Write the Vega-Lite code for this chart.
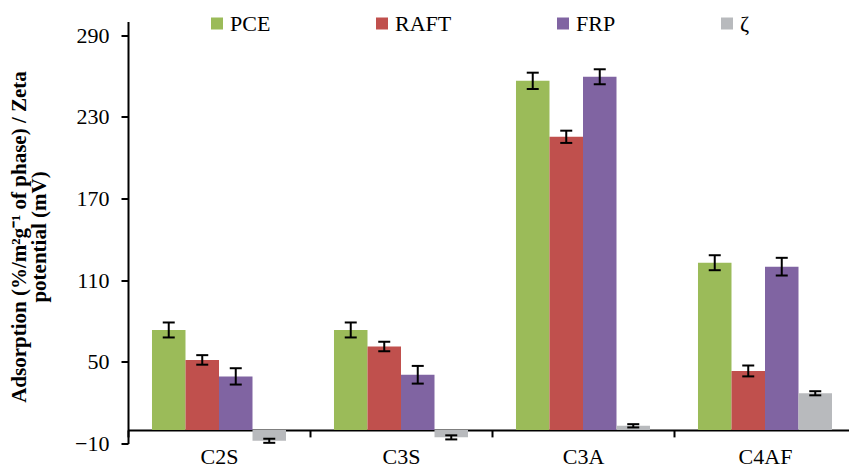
{
  "$schema": "https://vega.github.io/schema/vega-lite/v6.json",
  "width": 721,
  "height": 422,
  "autosize": "none",
  "padding": {"left": 128, "top": 21.5, "right": 0, "bottom": 25.5},
  "background": "white",
  "config": {"view": {"stroke": null}, "font": "'Times New Roman', 'Liberation Serif', serif"},
  "data": {
    "values": [
      {"phase": "C2S", "series": "PCE", "value": 73.4, "lo": 67.9, "hi": 78.9},
      {"phase": "C2S", "series": "RAFT", "value": 51.4, "lo": 47.9, "hi": 54.9},
      {"phase": "C2S", "series": "FRP", "value": 39.3, "lo": 33.3, "hi": 45.3},
      {"phase": "C2S", "series": "ζ", "value": -8, "lo": -9.5, "hi": -6.5},
      {"phase": "C3S", "series": "PCE", "value": 73.4, "lo": 67.9, "hi": 78.9},
      {"phase": "C3S", "series": "RAFT", "value": 61.2, "lo": 57.7, "hi": 64.7},
      {"phase": "C3S", "series": "FRP", "value": 40.5, "lo": 34.0, "hi": 47.0},
      {"phase": "C3S", "series": "ζ", "value": -5.5, "lo": -7.0, "hi": -4.0},
      {"phase": "C3A", "series": "PCE", "value": 256.4, "lo": 250.4, "hi": 262.4},
      {"phase": "C3A", "series": "RAFT", "value": 215.3, "lo": 210.8, "hi": 219.8},
      {"phase": "C3A", "series": "FRP", "value": 259.4, "lo": 253.9, "hi": 264.9},
      {"phase": "C3A", "series": "ζ", "value": 3, "lo": 1.8, "hi": 4.2},
      {"phase": "C4AF", "series": "PCE", "value": 122.8, "lo": 117.3, "hi": 128.3},
      {"phase": "C4AF", "series": "RAFT", "value": 43.3, "lo": 39.3, "hi": 47.3},
      {"phase": "C4AF", "series": "FRP", "value": 119.9, "lo": 113.4, "hi": 126.4},
      {"phase": "C4AF", "series": "ζ", "value": 26.9, "lo": 25.4, "hi": 28.4}
    ]
  },
  "encoding": {
    "x": {
      "field": "phase",
      "type": "nominal",
      "sort": ["C2S", "C3S", "C3A", "C4AF"],
      "scale": {"paddingInner": 0, "paddingOuter": 0, "range": [0, 728]},
      "axis": {
        "title": null,
        "offset": -13.6,
        "tickBand": "extent",
        "labelAngle": 0,
        "labelFont": "'Times New Roman', 'Liberation Serif', serif",
        "labelFontSize": 22,
        "labelColor": "black",
        "labelPadding": 10,
        "tickColor": "black",
        "tickSize": 7,
        "tickWidth": 2,
        "domainColor": "black",
        "domainWidth": 2
      }
    },
    "xOffset": {
      "field": "series",
      "type": "nominal",
      "sort": ["PCE", "RAFT", "FRP", "ζ"],
      "scale": {"paddingInner": 0, "paddingOuter": 0.716}
    }
  },
  "layer": [
    {
      "mark": {"type": "bar"},
      "encoding": {
        "y": {
          "field": "value",
          "type": "quantitative",
          "stack": null,
          "scale": {"domain": [-10, 300], "nice": false, "zero": false},
          "axis": {
            "values": [-10, 50, 110, 170, 230, 290],
            "title": ["Adsorption (%/m²g⁻¹ of phase) / Zeta", "potential (mV)"],
            "titleFont": "'Times New Roman', 'Liberation Serif', serif",
            "titleFontWeight": "bold",
            "titleFontSize": 21,
            "titleLineHeight": 20,
            "titleColor": "black",
            "titleX": -99,
            "titleY": 215,
            "labelFont": "'Times New Roman', 'Liberation Serif', serif",
            "labelFontSize": 22,
            "labelColor": "black",
            "labelPadding": 12,
            "tickColor": "black",
            "tickSize": 7,
            "tickWidth": 2,
            "domainColor": "black",
            "domainWidth": 2,
            "grid": false
          }
        },
        "y2": {"datum": 0},
        "color": {
          "field": "series",
          "type": "nominal",
          "sort": ["PCE", "RAFT", "FRP", "ζ"],
          "scale": {"domain": ["PCE", "RAFT", "FRP", "ζ"], "range": ["#9BBB59", "#C0504D", "#8064A2", "#B8BABD"]},
          "legend": {
            "orient": "none",
            "direction": "horizontal",
            "columns": 4,
            "legendX": 78,
            "legendY": -9,
            "title": null,
            "symbolType": "square",
            "symbolSize": 144,
            "symbolStrokeWidth": 0,
            "symbolOpacity": 1,
            "labelFont": "'Times New Roman', 'Liberation Serif', serif",
            "labelFontSize": 22,
            "labelColor": "black",
            "labelOffset": 2,
            "columnPadding": 100,
            "padding": 0
          }
        }
      }
    },
    {
      "mark": {"type": "rule", "color": "black", "strokeWidth": 2},
      "encoding": {
        "y": {"field": "lo", "type": "quantitative"},
        "y2": {"field": "hi"}
      }
    },
    {
      "mark": {"type": "tick", "color": "black", "thickness": 2, "size": 12, "opacity": 1},
      "encoding": {"y": {"field": "lo", "type": "quantitative"}}
    },
    {
      "mark": {"type": "tick", "color": "black", "thickness": 2, "size": 12, "opacity": 1},
      "encoding": {"y": {"field": "hi", "type": "quantitative"}}
    }
  ]
}
